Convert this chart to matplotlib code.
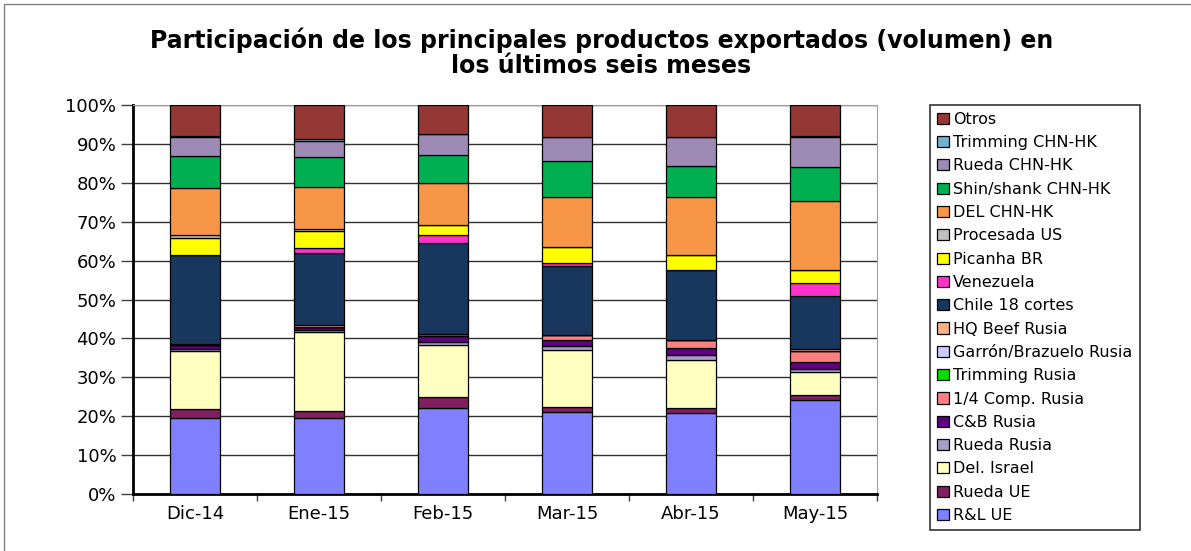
import numpy as np
import matplotlib.pyplot as plt
from matplotlib.patches import Rectangle

plt.rcParams['font.family'] = ['DejaVu Sans']

meses = ['Dic-14', 'Ene-15', 'Feb-15', 'Mar-15', 'Abr-15', 'May-15']

# participacion (%) por producto, de abajo hacia arriba
rl_ue         = [19.5, 19.6, 22.0, 21.0, 20.7, 24.2]
rueda_ue      = [2.3, 1.8, 2.8, 1.3, 1.2, 1.2]
del_israel    = [14.8, 20.4, 13.5, 14.6, 12.1, 6.0]
rueda_rusia   = [0.4, 0.3, 0.7, 1.0, 1.2, 0.6]
cb_rusia      = [1.0, 1.0, 1.6, 1.4, 1.8, 1.8]
comp_rusia    = [0.0, 0.0, 0.5, 1.5, 2.0, 3.0]
trimming_rus  = [0.0, 0.0, 0.0, 0.0, 0.0, 0.0]
garron_rusia  = [0.0, 0.0, 0.0, 0.0, 0.0, 0.0]
hq_beef       = [0.4, 0.4, 0.0, 0.0, 0.0, 0.5]
chile         = [22.8, 18.5, 23.4, 17.6, 18.0, 13.5]
venezuela     = [0.0, 1.4, 1.9, 0.8, 0.0, 3.5]
picanha       = [4.3, 4.3, 2.5, 3.9, 3.8, 3.2]
procesada     = [0.7, 0.4, 0.2, 0.0, 0.0, 0.0]
del_chn       = [11.9, 11.0, 10.8, 13.0, 14.7, 17.7]
shin_chn      = [8.2, 7.5, 7.2, 9.2, 7.9, 8.7]
rueda_chn     = [5.0, 4.2, 5.2, 6.1, 7.4, 7.7]
trimming_chn  = [0.2, 0.5, 0.0, 0.0, 0.0, 0.3]
otros         = [7.9, 8.8, 7.5, 8.1, 8.0, 8.0]

series = [
    ('R&L UE', rl_ue, '#8080FF'),
    ('Rueda UE', rueda_ue, '#802060'),
    ('Del. Israel', del_israel, '#FFFFC0'),
    ('Rueda Rusia', rueda_rusia, '#A89CC8'),
    ('C&B Rusia', cb_rusia, '#600080'),
    ('1/4 Comp. Rusia', comp_rusia, '#FF8080'),
    ('Trimming Rusia', trimming_rus, '#00E000'),
    ('Garrón/Brazuelo Rusia', garron_rusia, '#CCCCFF'),
    ('HQ Beef Rusia', hq_beef, '#FAB080'),
    ('Chile 18 cortes', chile, '#17375E'),
    ('Venezuela', venezuela, '#FF33CC'),
    ('Picanha BR', picanha, '#FFFF00'),
    ('Procesada US', procesada, '#C0C0C0'),
    ('DEL CHN-HK', del_chn, '#F79646'),
    ('Shin/shank CHN-HK', shin_chn, '#00B050'),
    ('Rueda CHN-HK', rueda_chn, '#9D8BB5'),
    ('Trimming CHN-HK', trimming_chn, '#6FB3CC'),
    ('Otros', otros, '#953735'),
]

vals = np.array([s[1] for s in series], dtype=float)
vals = vals / vals.sum(axis=0) * 100  # 100% apilado

fig = plt.figure(figsize=(11.91, 5.51), dpi=100)
fig.patches.append(Rectangle((0.0035, -0.05), 1.1, 1.042, transform=fig.transFigure,
                             fill=False, edgecolor='#808080', linewidth=1))
ax = fig.add_axes([0.1117, 0.1034, 0.6247, 0.7060])

x = np.arange(len(meses))
bottom = np.zeros(len(meses))
handles = []
for (nombre, _, color), v in zip(series, vals):
    b = ax.bar(x, v, 0.4, bottom=bottom, color=color, edgecolor='black',
               linewidth=0.9, label=nombre, zorder=3)
    handles.append(b)
    bottom += v

ax.set_xlim(-0.5, len(meses) - 0.5)
ax.set_ylim(0, 100)
ax.set_yticks(np.arange(0, 101, 10))
ax.set_yticklabels([f'{t}%' for t in range(0, 101, 10)], fontsize=13)
ax.set_xticks(x)
ax.set_xticklabels(meses, fontsize=13)
ax.set_xticks(np.arange(-0.5, len(meses), 1), minor=True)
ax.tick_params(axis='x', which='major', length=0, pad=8)
ax.tick_params(axis='x', which='minor', length=5, width=1, color='#404040')
ax.tick_params(axis='y', length=9, width=1, color='#404040', pad=3)
ax.grid(axis='y', color='#303030', linewidth=1, zorder=0)
ax.spines['left'].set_linewidth(2)
ax.spines['bottom'].set_linewidth(2)
ax.spines['top'].set_color('#A0A0A0')
ax.spines['right'].set_color('#A0A0A0')

fig.text(0.505, 0.905, 'Participación de los principales productos exportados (volumen) en\nlos últimos seis meses',
         ha='center', va='center', fontsize=17, fontweight='bold', linespacing=1.05)

leg = fig.legend(handles[::-1], [s[0] for s in series][::-1], loc='upper left',
                 bbox_to_anchor=(0.781, 0.81), fontsize=11.5, frameon=True, fancybox=False,
                 edgecolor='black', handlelength=0.7, handleheight=0.7, handletextpad=0.3,
                 labelspacing=0.52, borderpad=0.45, borderaxespad=0)
leg.get_frame().set_linewidth(1.2)

fig.savefig('out.png', dpi=100)
